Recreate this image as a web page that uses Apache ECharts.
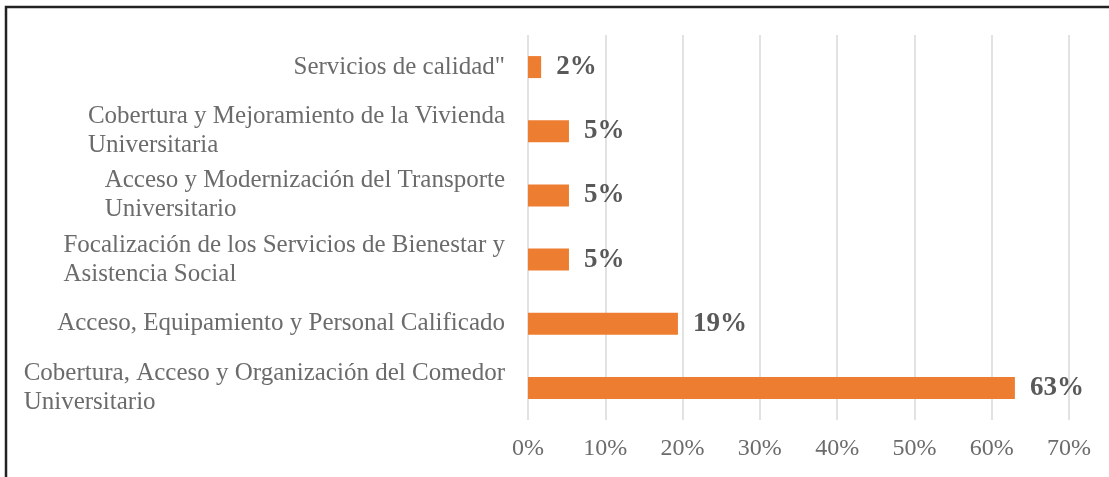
<!DOCTYPE html>
<html>
<head>
<meta charset="utf-8">
<style>
  html, body { margin: 0; padding: 0; background: #fff; }
  #main { width: 1109px; height: 477px; }
</style>
<script src="https://cdn.jsdelivr.net/npm/echarts@6/dist/echarts.min.js"></script>
</head>
<body>
<div id="main"></div>
<script>
// categorias, de arriba hacia abajo
var categorias = [
  'Servicios de calidad"',
  'Cobertura y Mejoramiento de la Vivienda\nUniversitaria',
  'Acceso y Modernización del Transporte\nUniversitario',
  'Focalización de los Servicios de Bienestar y\nAsistencia Social',
  'Acceso, Equipamiento y Personal Calificado',
  'Cobertura, Acceso y Organización del Comedor\nUniversitario'
];
// porcentajes
var porcentajes = [1.7, 5.3, 5.3, 5.3, 19.4, 63.0];
var ticksX = { min: 0, max: 70, interval: 10 };

var chart = echarts.init(document.getElementById('main'));

chart.setOption({
  animation: false,
  backgroundColor: '#fff',
  textStyle: { fontFamily: 'Liberation Serif' },
  // marco del cuadro (solo borde superior e izquierdo visibles)
  graphic: [{
    type: 'rect',
    shape: { x: 6, y: 7, width: 1200, height: 600 },
    style: { fill: 'none', stroke: '#222', lineWidth: 2.5 }
  }],
  grid: { left: 528, right: 40, top: 35, bottom: 57 },
  xAxis: {
    type: 'value',
    min: ticksX.min,
    max: ticksX.max,
    interval: ticksX.interval,
    axisLine: { show: false },
    axisTick: { show: false },
    splitLine: { lineStyle: { color: '#d9d9d9', width: 1.5 } },
    axisLabel: {
      formatter: '{value}%',
      color: '#6b6b6b',
      fontSize: 24,
      fontFamily: 'Liberation Serif',
      margin: 17
    }
  },
  yAxis: {
    type: 'category',
    inverse: true,
    data: categorias,
    axisLine: { show: false },
    axisTick: { show: false },
    axisLabel: {
      margin: 23,
      align: 'right',
      formatter: function (v) {
        return v.split('\n').map(function (l) { return '{l|' + l + '}'; }).join('\n');
      },
      rich: {
        l: {
          align: 'left',
          color: '#6b6b6b',
          fontSize: 25,
          lineHeight: 29,
          fontFamily: 'Liberation Serif'
        }
      }
    }
  },
  series: [{
    type: 'bar',
    data: porcentajes,
    barWidth: 22,
    itemStyle: { color: '#ed7d31' },
    label: {
      show: true,
      position: 'right',
      distance: 15,
      formatter: function (p) { return Math.round(p.value) + '%'; },
      color: '#595959',
      fontSize: 27,
      fontWeight: 'bold',
      fontFamily: 'Liberation Serif'
    }
  }]
});
</script>
</body>
</html>
